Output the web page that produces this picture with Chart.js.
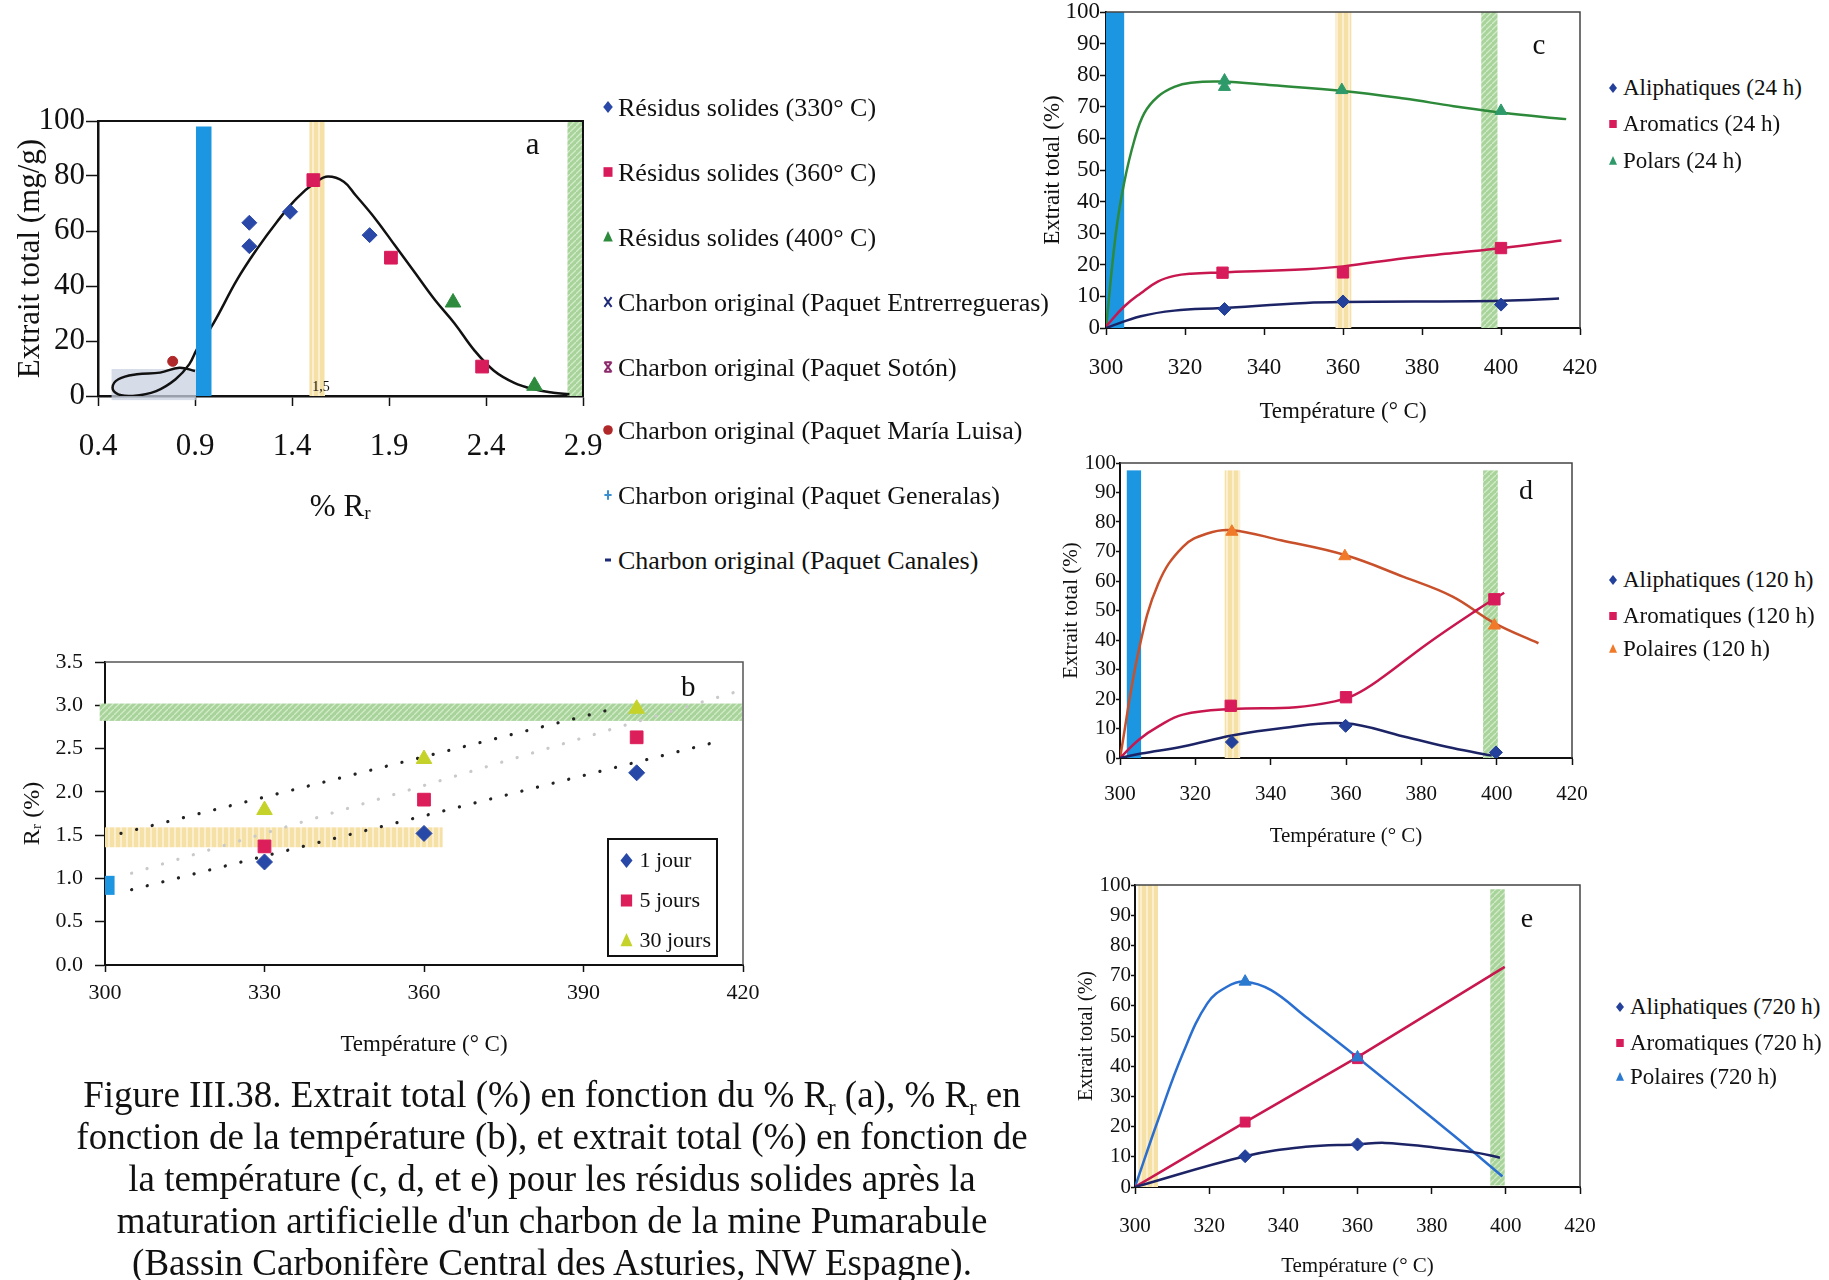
<!DOCTYPE html>
<html>
<head>
<meta charset="utf-8">
<script src="https://cdn.jsdelivr.net/npm/chart.js@4.4.1/dist/chart.umd.min.js"></script>
<style>
  body { margin: 0; background: #fff; }
  #page { position: relative; width: 1829px; height: 1280px; overflow: hidden;
          font-family: 'Liberation Serif', 'Times New Roman', serif; color: #111; }
  .box { position: absolute; }
  .item { position: absolute; display: flex; align-items: center; white-space: nowrap; }
  #legB { position: absolute; left: 607px; top: 838px; width: 107px; height: 115px;
          border: 2px solid #111; background: #fff; }
  #caption { position: absolute; left: 32px; width: 1040px; top: 1074px; text-align: center;
             font-size: 37px; line-height: 42px; white-space: nowrap; }
  #caption sub { font-size: 0.6em; line-height: 0; }
</style>
</head>
<body>
<div id="page">
  <div class="box" style="left:0;top:96px;width:608px;height:430px"><canvas id="chartA"></canvas></div>
  <div class="box" style="left:0;top:637px;width:768px;height:422px"><canvas id="chartB"></canvas></div>
  <div class="box" style="left:1030px;top:0;width:575px;height:426px"><canvas id="chartC"></canvas></div>
  <div class="box" style="left:1040px;top:451px;width:557px;height:398px"><canvas id="chartD"></canvas></div>
  <div class="box" style="left:1050px;top:873px;width:555px;height:406px"><canvas id="chartE"></canvas></div>
  <div id="legB"></div>
  <div id="caption">Figure III.38. Extrait total (%) en fonction du % R<sub>r</sub> (a), % R<sub>r</sub> en<br>
fonction de la température (b), et extrait total (%) en fonction de<br>
la température (c, d, et e) pour les résidus solides après la<br>
maturation artificielle d'un charbon de la mine Pumarabule<br>
(Bassin Carbonifère Central des Asturies, NW Espagne).</div>
</div>
<script>
// ---------- (a) extrait total vs % Rr ----------
const aTicksX = [0.4, 0.9, 1.4, 1.9, 2.4, 2.9];
const aTicksY = [0, 20, 40, 60, 80, 100];
const aSeries = ['Résidus solides (330° C)', 'Résidus solides (360° C)', 'Résidus solides (400° C)',
  'Charbon original (Paquet Entrerregueras)', 'Charbon original (Paquet Sotón)',
  'Charbon original (Paquet María Luisa)', 'Charbon original (Paquet Generalas)',
  'Charbon original (Paquet Canales)'];
const aRr330 = [1.18, 1.18, 1.39, 1.80];
const aExt330 = [63.0, 54.5, 67.0, 58.5];
const aRr360 = [1.51, 1.91, 2.38];
const aExt360 = [78.5, 50.3, 10.7];
const aRr400 = [2.23, 2.65];
const aExt400 = [34.0, 3.7];
const aRrMaria = [0.785];
const aExtMaria = [12.6];
const aCurveRr = [0.90, 0.82, 0.72, 0.60, 0.505, 0.475, 0.505, 0.58, 0.70, 0.80, 0.87, 0.91, 0.995,
  1.117, 1.219, 1.321, 1.423, 1.525, 1.586, 1.667, 1.728, 1.83, 1.932, 2.034, 2.136, 2.238, 2.34,
  2.441, 2.543, 2.645, 2.747, 2.83];
const aCurveExt = [9.1, 10.3, 8.5, 7.9, 6.1, 3.0, 0.6, 0.0, 1.8, 6.1, 11.5, 17, 26.4,
  42.3, 53.4, 63.2, 71.8, 77.9, 79.8, 77.9, 73, 64.4, 54.6, 44.8, 35, 26.4, 16.6,
  9.2, 4.9, 2.5, 1.2, 0.6];
const aBlue = [0.905, 0.985, 0, 98];
const aYellow = [1.49, 1.57, 0, 100];
const aGreen = [2.82, 2.895, 0, 100];
const aGrey = [0.47, 0.905, -1.5, 9.8];

// ---------- (b) Rr vs température ----------
const bTicksX = [300, 330, 360, 390, 420];
const bTicksY = [0, 0.5, 1, 1.5, 2, 2.5, 3, 3.5];
const bSeries = ['1 jour', '5 jours', '30 jours'];
const bTemp = [330, 360, 400];
const bRr1 = [1.19, 1.52, 2.22];
const bRr5 = [1.37, 1.91, 2.63];
const bRr30 = [1.79, 2.38, 2.96];
const bTrend1T = [305, 416.5], bTrend1R = [0.87, 2.60];
const bTrend5T = [305, 419.5], bTrend5R = [1.06, 3.17];
const bTrend30T = [303, 395], bTrend30R = [1.52, 2.95];
const bGreen = [299, 419.8, 2.82, 3.02];
const bYellow = [300, 363.5, 1.36, 1.59];
const bBlue = [300, 301.8, 0.81, 1.03];

// ---------- (c, d, e) extrait total vs température ----------
const tTicksX = [300, 320, 340, 360, 380, 400, 420];
const tTicksY = [0, 10, 20, 30, 40, 50, 60, 70, 80, 90, 100];

const cSeries = ['Aliphatiques (24 h)', 'Aromatics (24 h)', 'Polars (24 h)'];
const cAliT = [330, 360, 400], cAli = [6.0, 8.4, 7.4];
const cAroT = [329.5, 360, 400], cAro = [17.5, 17.6, 25.3];
const cPolT = [330, 330, 359.7, 400], cPol = [78.3, 76.3, 75.3, 68.7];
const cAliCurveT = [300, 308.8, 317.3, 329.1, 350.6, 360, 400.4, 414.7];
const cAliCurve = [0, 3.7, 5.5, 6.3, 7.9, 8.2, 8.6, 9.3];
const cAroCurveT = [300, 304.6, 308.8, 313.1, 317.3, 321.5, 329.1, 350.6, 360, 375.5, 388, 400.4, 415.3];
const cAroCurve = [0.5, 6.8, 11, 14.7, 16.5, 17.2, 17.6, 18.6, 19.5, 22.1, 23.7, 25.3, 27.7];
const cPolCurveT = [300, 302.5, 304.6, 307.2, 309.7, 313.1, 317.3, 321.5, 329, 342.2, 360, 375.5, 388, 400.4, 416.5];
const cPolCurve = [0, 30, 46, 59.5, 68, 73.2, 76.3, 77.6, 78, 76.8, 75, 72.6, 70.2, 68.1, 66.1];
const cBlue = [300, 304.6, 0, 100];
const cYellow = [358.1, 362.1, 0, 100];
const cGreen = [395, 399.1, 0, 100];

const dSeries = ['Aliphatiques (120 h)', 'Aromatiques (120 h)', 'Polaires (120 h)'];
const dAliT = [329.7, 359.9, 399.8], dAli = [5.4, 10.9, 1.9];
const dAroT = [329.4, 360, 399.4], dAro = [17.7, 20.6, 53.8];
const dPolT = [329.7, 359.7, 399.4], dPol = [76.7, 68.4, 44.9];
const dAliCurveT = [300, 305.6, 316.7, 329.7, 342.7, 359.7, 375.3, 388.3, 398.7];
const dAliCurve = [0, 1.5, 3.9, 7.6, 10.1, 11.8, 7.3, 3.4, 0.8];
const dAroCurveT = [300, 305, 310.2, 316.7, 329.7, 346.7, 357, 362.3, 368.8, 381.8, 394.8, 402];
const dAroCurve = [0, 6.2, 10.7, 14.7, 16.6, 17.2, 19.2, 21.4, 26.5, 38.9, 50.2, 56];
const dPolCurveT = [300, 305, 310.2, 316.7, 323.2, 329.7, 342.7, 359.7, 375.3, 388.3, 399.4, 411.1];
const dPolCurve = [0, 36.6, 59.2, 71.6, 76.1, 77.2, 73.8, 68.8, 61.4, 54.7, 45.7, 38.9];
const dBlue = [301.8, 305.6, 0, 97.5];
const dYellow = [327.8, 331.9, 0, 97.5];
const dGreen = [396.4, 400.3, 0, 97.5];

const eSeries = ['Aliphatiques (720 h)', 'Aromatiques (720 h)', 'Polaires (720 h)'];
const eAliT = [329.7, 360], eAli = [10.2, 14.1];
const eAroT = [329.7, 360], eAro = [21.5, 42.5];
const ePolT = [329.7, 360], ePol = [68.0, 42.9];
const eAliCurveT = [300, 329.7, 346, 360, 367.4, 379.2, 392.4, 398.4];
const eAliCurve = [0, 10.2, 13.3, 14.1, 14.6, 13.3, 11.3, 9.7];
const eAroCurveT = [300, 329.7, 360, 399.7];
const eAroCurve = [0, 21.5, 43.0, 72.9];
const ePolCurveT = [300, 306.2, 312.9, 319.5, 324.8, 329.7, 336.7, 346, 360, 372.5, 385.8, 399.1];
const ePolCurve = [0, 22.1, 44.2, 60.8, 66.3, 68.0, 65.2, 56.4, 42.9, 30.5, 17.2, 3.5];
const eYellow = [300.9, 306.2, 0, 100];
const eGreen = [395.8, 399.7, 0.5, 98.6];

// ---------- helpers ----------
Chart.defaults.font.family = "'Liberation Serif', 'Times New Roman', serif";
Chart.defaults.color = '#111';

const pts = (xs, ys) => xs.map((x, i) => ({ x: x, y: ys[i] }));

function pattern(ctx, kind) {
  const p = document.createElement('canvas');
  p.width = 6; p.height = 6;
  const g = p.getContext('2d');
  if (kind === 'green') {
    g.fillStyle = '#a8d39a'; g.fillRect(0, 0, 6, 6);
    g.strokeStyle = '#d2ebc8'; g.lineWidth = 1.3;
    g.beginPath(); g.moveTo(0, 6); g.lineTo(6, 0); g.stroke();
  } else {
    g.fillStyle = '#f5e0a6'; g.fillRect(0, 0, 6, 6);
    g.fillStyle = '#fbefcf'; g.fillRect(0, 0, 2, 6);
  }
  return ctx.createPattern(p, 'repeat');
}

function fillFor(ctx, kind) {
  if (kind === 'green' || kind === 'yellow') return pattern(ctx, kind);
  if (kind === 'blue') return '#1c96e0';
  return 'rgba(200,210,225,0.75)';
}

// background bands, frame and panel letters, all placed through the scales
function decor(bands, notes, frame) {
  const draw = (chart, front) => {
    const { ctx, scales: { x, y } } = chart;
    bands.filter(b => !!b.front === front).forEach(b => {
      const [x0, x1, y0, y1] = b.range;
      const px0 = x.getPixelForValue(x0), px1 = x.getPixelForValue(x1);
      const py0 = y.getPixelForValue(y0), py1 = y.getPixelForValue(y1);
      ctx.save();
      ctx.fillStyle = fillFor(ctx, b.kind);
      ctx.fillRect(px0, py1, px1 - px0, py0 - py1);
      ctx.restore();
    });
  };
  return {
    id: 'decor',
    beforeDatasetsDraw(chart) {
      draw(chart, false);
      const a = chart.chartArea, ctx = chart.ctx;
      ctx.save();
      ctx.strokeStyle = frame.color; ctx.lineWidth = frame.width;
      ctx.beginPath();
      ctx.moveTo(a.left, a.top); ctx.lineTo(a.right, a.top); ctx.lineTo(a.right, a.bottom);
      ctx.stroke();
      ctx.restore();
    },
    afterDatasetsDraw(chart) {
      draw(chart, true);
      const { ctx, scales: { x, y } } = chart;
      ctx.save();
      ctx.fillStyle = '#111'; ctx.textAlign = 'center'; ctx.textBaseline = 'middle';
      notes.forEach(n => {
        ctx.font = n.size + "px 'Liberation Serif', serif";
        ctx.fillText(n.text, x.getPixelForValue(n.at[0]), y.getPixelForValue(n.at[1]));
      });
      ctx.restore();
    }
  };
}

function axis(o) {
  return {
    type: 'linear', min: o.min, max: o.max,
    afterBuildTicks: s => { s.ticks = o.ticks.map(v => ({ value: v })); },
    afterFit: s => {
      if (o.width) s.width = o.width;
      if (o.height) s.height = o.height;
      // let layout.padding alone decide where the plot area ends
      s.paddingLeft = 0; s.paddingRight = 0; s.paddingTop = 0; s.paddingBottom = 0;
    },
    border: { display: true, color: '#111', width: o.bw },
    grid: { drawOnChartArea: false, drawTicks: true, tickLength: o.tl, color: '#111', tickColor: '#111', tickWidth: 1.5 },
    ticks: { color: '#111', font: { size: o.fs, lineHeight: 1 }, padding: o.pad, autoSkip: false, maxRotation: 0,
             callback: o.fmt || (v => String(v)) },
    title: { display: true, text: o.title, color: '#111', font: { size: o.tfs, lineHeight: 1.2 }, padding: o.tpad }
  };
}

function makeChart(id, datasets, scales, bands, notes, frame, pad) {
  return new Chart(document.getElementById(id), {
    type: 'scatter',
    data: { datasets: datasets },
    options: {
      responsive: true, maintainAspectRatio: false, animation: false, events: [],
      layout: { padding: pad },
      plugins: { legend: { display: false }, tooltip: { enabled: false } },
      scales: scales
    },
    plugins: [decor(bands, notes, frame)]
  });
}

const marks = (label, xs, ys, style, r, color, order) => ({
  label: label, data: pts(xs, ys), showLine: false, pointStyle: style, pointRadius: r,
  backgroundColor: color, borderColor: color, borderWidth: 1, order: order
});
const curve = (xs, ys, color, w, tension) => ({
  data: pts(xs, ys), showLine: true, pointRadius: 0, borderColor: color, borderWidth: w,
  tension: tension, fill: false, order: 5
});
const trend = (xs, ys, color) => ({
  data: pts(xs, ys), showLine: true, pointRadius: 0, borderColor: color, borderWidth: 3.2,
  borderDash: [0.1, 16], borderCapStyle: 'round', tension: 0, order: 6
});

// ---------- charts ----------
const chartA = makeChart('chartA', [
  marks(aSeries[0], aRr330, aExt330, 'rectRot', 7.5, '#2a48a8', 1),
  marks(aSeries[1], aRr360, aExt360, 'rect', 9, '#d81b5a', 1),
  marks(aSeries[2], aRr400, aExt400, 'triangle', 9, '#2e8b3e', 1),
  marks(aSeries[3], [], [], 'crossRot', 6, '#1f2a78', 1),
  marks(aSeries[4], [], [], 'star', 6, '#8b2a6a', 1),
  marks(aSeries[5], aRrMaria, aExtMaria, 'circle', 5, '#b0282a', 1),
  marks(aSeries[6], [], [], 'cross', 6, '#3a8fd0', 1),
  marks(aSeries[7], [], [], 'line', 6, '#1f2a78', 1),
  curve(aCurveRr, aCurveExt, '#111', 2.5, 0.4)
], {
  x: axis({ min: 0.4, max: 2.9, ticks: aTicksX, height: 130, bw: 2.5, tl: 10, fs: 31, pad: 25,
            fmt: v => v.toFixed(1), title: '% Rᵣ', tfs: 31, tpad: { top: 0, bottom: 0 } }),
  y: axis({ min: 0, max: 100, ticks: aTicksY, width: 98, bw: 2.5, tl: 12, fs: 31, pad: 1,
            title: 'Extrait total (mg/g)', tfs: 31, tpad: { top: 12, bottom: 0 } })
}, [
  { range: aGrey, kind: 'grey' }, { range: aYellow, kind: 'yellow' },
  { range: aGreen, kind: 'green' }, { range: aBlue, kind: 'blue', front: true }
], [
  { text: 'a', at: [2.64, 91], size: 31 }, { text: '1,5', at: [1.55, 3], size: 14 }
], { color: '#111', width: 2 }, { left: 0, top: 25, right: 25, bottom: 0 });

const chartB = makeChart('chartB', [
  marks(bSeries[0], bTemp, bRr1, 'rectRot', 8, '#2848a8', 1),
  marks(bSeries[1], bTemp, bRr5, 'rect', 9, '#dc1e5a', 1),
  marks(bSeries[2], bTemp, bRr30, 'triangle', 9, '#c4d22a', 1),
  trend(bTrend1T, bTrend1R, '#222'),
  trend(bTrend5T, bTrend5R, '#c9c9c9'),
  trend(bTrend30T, bTrend30R, '#222')
], {
  x: axis({ min: 300, max: 420, ticks: bTicksX, height: 94, bw: 2, tl: 7, fs: 22, pad: 10,
            title: 'Température (° C)', tfs: 23, tpad: { top: 0, bottom: 0 } }),
  y: axis({ min: 0, max: 3.5, ticks: bTicksY, width: 105, bw: 2, tl: 10, fs: 22, pad: 12,
            fmt: v => v.toFixed(1), title: 'Rᵣ (%)', tfs: 24, tpad: { top: 18, bottom: 0 } })
}, [
  { range: bGreen, kind: 'green' }, { range: bYellow, kind: 'yellow' }, { range: bBlue, kind: 'blue' }
], [
  { text: 'b', at: [409.7, 3.2], size: 29 }
], { color: '#555', width: 1.5 }, { left: 0, top: 25, right: 25, bottom: 0 });

function tempScales(o) {
  return {
    x: axis({ min: 300, max: 420, ticks: tTicksX, height: o.h, bw: 2, tl: 7, fs: o.fs, pad: o.xpad,
              title: 'Température (° C)', tfs: o.fs, tpad: { top: 0, bottom: 0 } }),
    y: axis({ min: 0, max: 100, ticks: tTicksY, width: o.w, bw: 2, tl: o.ytl, fs: o.fs, pad: o.ypad,
              title: 'Extrait total (%)', tfs: o.yfs, tpad: { top: o.ytp, bottom: 0 } })
  };
}

const chartC = makeChart('chartC', [
  marks(cSeries[0], cAliT, cAli, 'rectRot', 6.5, '#23409a', 1),
  marks(cSeries[1], cAroT, cAro, 'rect', 8, '#d81b5a', 1),
  marks(cSeries[2], cPolT, cPol, 'triangle', 7, '#2e9a6a', 0),
  curve(cAliCurveT, cAliCurve, '#1c2466', 2.5, 0.4),
  curve(cAroCurveT, cAroCurve, '#c8174f', 2.5, 0.4),
  curve(cPolCurveT, cPolCurve, '#2d8a3a', 2.5, 0.4)
], tempScales({ h: 98, w: 76, fs: 23, xpad: 21, ytl: 6, ypad: 0, yfs: 23, ytp: 9 }), [
  { range: cBlue, kind: 'blue' }, { range: cYellow, kind: 'yellow' }, { range: cGreen, kind: 'green' }
], [
  { text: 'c', at: [409.6, 89], size: 29 }
], { color: '#444', width: 1.5 }, { left: 0, top: 12, right: 25, bottom: 0 });

const chartD = makeChart('chartD', [
  marks(dSeries[0], dAliT, dAli, 'rectRot', 6.5, '#23409a', 1),
  marks(dSeries[1], dAroT, dAro, 'rect', 8, '#d81b5a', 1),
  marks(dSeries[2], dPolT, dPol, 'triangle', 7, '#f07a2a', 0),
  curve(dAliCurveT, dAliCurve, '#1c2466', 2.5, 0.4),
  curve(dAroCurveT, dAroCurve, '#c8174f', 2.5, 0.4),
  curve(dPolCurveT, dPolCurve, '#c8502a', 2.5, 0.4)
], tempScales({ h: 91, w: 80, fs: 21, xpad: 19, ytl: 4, ypad: 0, yfs: 21, ytp: 19 }), [
  { range: dBlue, kind: 'blue' }, { range: dYellow, kind: 'yellow' }, { range: dGreen, kind: 'green' }
], [
  { text: 'd', at: [407.8, 90.2], size: 28 }
], { color: '#444', width: 1.5 }, { left: 0, top: 12, right: 25, bottom: 0 });

const chartE = makeChart('chartE', [
  marks(eSeries[0], eAliT, eAli, 'rectRot', 6.5, '#23409a', 1),
  marks(eSeries[1], eAroT, eAro, 'rect', 7, '#d81b5a', 1),
  marks(eSeries[2], ePolT, ePol, 'triangle', 7, '#2a7ad0', 0),
  curve(eAliCurveT, eAliCurve, '#1c2466', 2.5, 0.4),
  curve(eAroCurveT, eAroCurve, '#c8174f', 2.5, 0),
  curve(ePolCurveT, ePolCurve, '#2a6fd0', 2.5, 0.4)
], tempScales({ h: 92, w: 85, fs: 21, xpad: 22, ytl: 4, ypad: 0, yfs: 20, ytp: 25 }), [
  { range: eYellow, kind: 'yellow' }, { range: eGreen, kind: 'green' }
], [
  { text: 'e', at: [405.7, 88.4], size: 28 }
], { color: '#444', width: 1.5 }, { left: 0, top: 12, right: 25, bottom: 0 });

// ---------- html legends built from the datasets ----------
function markerCanvas(style, color, r) {
  const s = Math.ceil(r * 2 + 4);
  const cv = document.createElement('canvas');
  cv.width = s; cv.height = s;
  const g = cv.getContext('2d');
  const m = s / 2;
  g.fillStyle = color; g.strokeStyle = color; g.lineWidth = 2;
  g.beginPath();
  if (style === 'rectRot') {
    g.moveTo(m, m - r); g.lineTo(m + r * 0.8, m); g.lineTo(m, m + r); g.lineTo(m - r * 0.8, m); g.closePath(); g.fill();
  } else if (style === 'rect') {
    g.fillRect(m - r * 0.75, m - r * 0.8, r * 1.5, r * 1.6);
  } else if (style === 'triangle') {
    g.moveTo(m, m - r); g.lineTo(m + r * 0.8, m + r * 0.75); g.lineTo(m - r * 0.8, m + r * 0.75); g.closePath(); g.fill();
  } else if (style === 'circle') {
    g.arc(m, m, r * 0.8, 0, Math.PI * 2); g.fill();
  } else if (style === 'crossRot' || style === 'star') {
    g.moveTo(m - r * 0.6, m - r * 0.8); g.lineTo(m + r * 0.6, m + r * 0.8);
    g.moveTo(m + r * 0.6, m - r * 0.8); g.lineTo(m - r * 0.6, m + r * 0.8);
    if (style === 'star') {
      g.moveTo(m - r * 0.6, m - r * 0.8); g.lineTo(m + r * 0.6, m - r * 0.8);
      g.moveTo(m - r * 0.6, m + r * 0.8); g.lineTo(m + r * 0.6, m + r * 0.8);
    }
    g.stroke();
  } else if (style === 'cross') {
    g.moveTo(m, m - r * 0.8); g.lineTo(m, m + r * 0.8); g.moveTo(m - r * 0.6, m); g.lineTo(m + r * 0.6, m); g.stroke();
  } else if (style === 'line') {
    g.fillRect(m - r * 0.5, m - 1.5, r, 3);
  }
  return cv;
}

function htmlLegend(chart, parent, offX, offY, markX, rows, fs, r, gap) {
  const items = chart.data.datasets.filter(d => d.label);
  items.forEach((ds, i) => {
    const div = document.createElement('div');
    div.className = 'item';
    div.style.fontSize = fs + 'px';
    div.style.lineHeight = Math.round(fs * 1.2) + 'px';
    const cv = markerCanvas(ds.pointStyle, ds.backgroundColor, r);
    cv.style.marginRight = gap + 'px';
    div.appendChild(cv);
    div.appendChild(document.createTextNode(ds.label));
    div.style.left = (markX - cv.width / 2 - offX) + 'px';
    div.style.top = (rows[i] - Math.round(fs * 1.2) / 2 - offY) + 'px';
    parent.appendChild(div);
  });
}

const page = document.getElementById('page');
htmlLegend(chartA, page, 0, 0, 608, [107, 172, 237, 302, 367, 430, 495, 560], 26, 6, 2);
htmlLegend(chartB, document.getElementById('legB'), 609, 840, 626, [860, 900, 940], 22, 7.5, 4);
htmlLegend(chartC, page, 0, 0, 1613, [88, 124, 161], 23, 5, 3);
htmlLegend(chartD, page, 0, 0, 1613, [580, 616, 649], 23, 5, 3);
htmlLegend(chartE, page, 0, 0, 1620, [1007, 1043, 1077], 23, 5, 3);
</script>
</body>
</html>
